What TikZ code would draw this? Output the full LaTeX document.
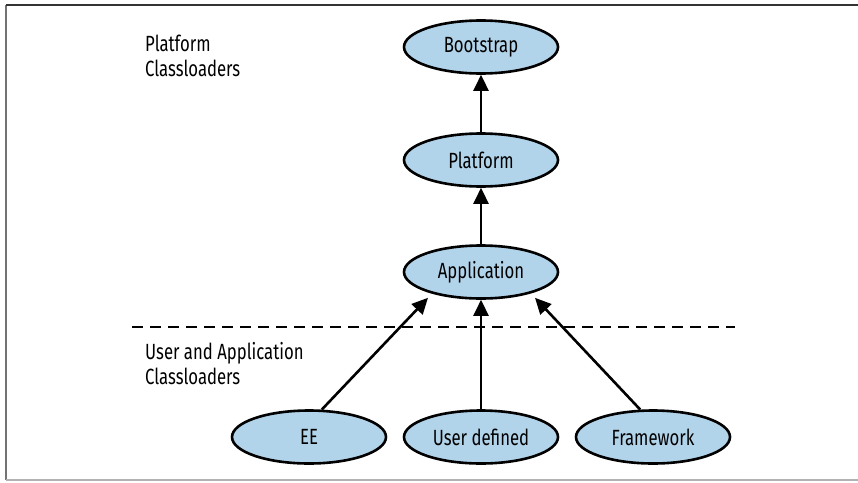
\documentclass[tikz,border=0pt]{standalone}
\usepackage{fontspec}
\setmainfont[FakeStretch=0.76]{Fira Sans}
\usetikzlibrary{shapes.geometric,arrows.meta}
\definecolor{nodefill}{RGB}{178,212,234}
\tikzset{
  loader/.style={ellipse, draw=black, line width=2.6pt, fill=nodefill,
    minimum width=154pt, minimum height=53pt, inner sep=0pt,
    font=\fontsize{22}{25}\selectfont},
  link/.style={line width=2.6pt, -{Triangle[length=16pt,width=15pt]}},
  grouplabel/.style={anchor=north west, align=left, inner sep=0pt,
    font=\fontsize{22}{25}\selectfont},
  sep/.style={line width=2.6pt, dash pattern=on 11pt off 7pt}
}
\begin{document}
\begin{tikzpicture}[x=1pt,y=-1pt]
\useasboundingbox (0,0) rectangle (858,482);
\draw[line width=1.5pt, color=black!55] (6,480) -- (6,5);
\draw[line width=1.5pt, color=black!80] (6,5) -- (858,5);
\draw[line width=1.5pt, color=black!30] (6,480) -- (858,480);

\node[loader] (boot) at (481,47) {Bootstrap};
\node[loader] (plat) at (481,160) {Platform};
\node[loader] (app) at (481,272) {Application};
\node[loader] (ee) at (309,437) {EE};
\node[loader] (user) at (481,437) {User defined};
\node[loader] (fw) at (653,437) {Framework};

\node[grouplabel] (plab) at (145,35) {Platform\\Classloaders};
\node[grouplabel] (ulab) at (145,342) {User and Application\\Classloaders};

\coordinate (sepL) at (132,327);
\coordinate (sepR) at (735,327);
\draw[sep] (sepL) -- (sepR);

\draw[link] (plat.north) -- (boot.south);
\draw[link] (app.north) -- (plat.south);
\draw[link] (user.north) -- (app.south);
\draw[link] (ee.65) -- ([xshift=-53pt,yshift=2pt]app.south);
\draw[link] (fw.115) -- ([xshift=54pt,yshift=2pt]app.south);
\end{tikzpicture}
\end{document}
